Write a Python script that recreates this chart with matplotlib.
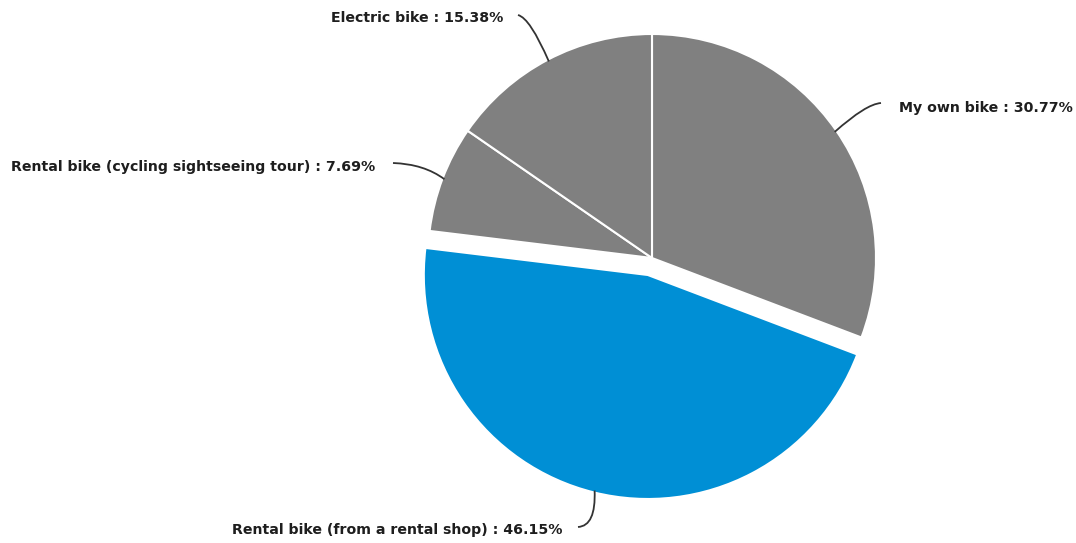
import matplotlib.pyplot as plt
from matplotlib.path import Path
import matplotlib.patches as mpatches
import numpy as np

W, H = 1076, 543

categories = [
    "My own bike",
    "Rental bike (from a rental shop)",
    "Rental bike (cycling sightseeing tour)",
    "Electric bike",
]
shares = [30.77, 46.15, 7.69, 15.38]
colors = ["#808080", "#008fd5", "#808080", "#808080"]
explode_px = [0, 17.5, 0, 0]

# label text anchors (pixel coords, y down) and alignment
label_pos = [(899, 108, "left"), (562, 530, "right"), (375, 167, "right"), (503, 18, "right")]
# leader line: start next to text, bezier control point
leader_start = [(881, 103), (578, 527), (393, 163), (518, 15)]
leader_ctrl = [(866, 104), (596, 526), (424, 164), (530, 18)]

cx, cy, r = 652, 258, 224


def fy(y):
    return H - y


fig = plt.figure(figsize=(W / 100, H / 100), dpi=100)
ax = fig.add_axes([0, 0, 1, 1])

wedges, _ = ax.pie(
    shares,
    startangle=90,
    counterclock=False,
    center=(cx, fy(cy)),
    radius=r,
    explode=explode_px,
    colors=colors,
    wedgeprops={"edgecolor": "white", "linewidth": 1.5},
    frame=True,
)
ax.set_xlim(0, W)
ax.set_ylim(0, H)
ax.set_aspect("equal")
ax.axis("off")

for w, name, share, (tx, ty, ha), (sx, sy), (kx, ky) in zip(
    wedges, categories, shares, label_pos, leader_start, leader_ctrl
):
    mid = np.deg2rad((w.theta1 + w.theta2) / 2)
    ex = w.center[0] + (r - 2) * np.cos(mid)
    ey = w.center[1] + (r - 2) * np.sin(mid)
    path = Path(
        [(sx, fy(sy)), (kx, fy(ky)), (ex, ey)],
        [Path.MOVETO, Path.CURVE3, Path.CURVE3],
    )
    ax.add_patch(mpatches.PathPatch(path, fill=False, edgecolor="#333333", lw=1.3, zorder=5))
    ax.text(
        tx, fy(ty), f"{name} : {share:.2f}%",
        ha=ha, va="center", fontsize=10.2, fontweight="bold",
        family="DejaVu Sans", color="#1e1e1e",
    )

fig.savefig("out.png", dpi=100, facecolor="white")
